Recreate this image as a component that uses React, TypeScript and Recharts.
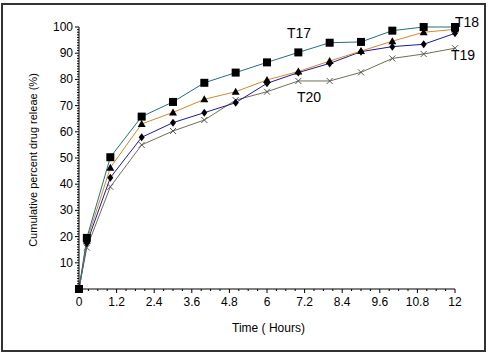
import React from "react";
import { LineChart, Line, XAxis, YAxis } from "recharts";

// sampling times (hours)
const times = [0, 0.25, 1, 2, 3, 4, 5, 6, 7, 8, 9, 10, 11, 12];
// cumulative % release per formulation
const t17 = [0, 19.5, 50.3, 65.8, 71.4, 78.7, 82.6, 86.5, 90.3, 94, 94.3, 98.6, 100, 100];
const t18 = [0, 18.5, 46.3, 63, 67.4, 72.4, 75.3, 79.8, 83, 87, 90.8, 94.6, 98, 99.1];
const t19 = [0, 17.5, 42.5, 57.9, 63.5, 67.3, 71.1, 78.5, 82.6, 86.1, 90.6, 92.5, 93.4, 97.6];
const t20 = [0, 15.8, 39, 55, 60.3, 64.5, 72.1, 75.3, 79.4, 79.4, 82.7, 88, 89.7, 91.9];

const xMajorTicks = [0, 1.2, 2.4, 3.6, 4.8, 6, 7.2, 8.4, 9.6, 10.8, 12];
const yMajorTicks = [10, 20, 30, 40, 50, 60, 70, 80, 90, 100];

// minor tick positions (axis decoration only)
const xTicks = Array.from({ length: 41 }, (_, i) => Math.round(i * 0.3 * 100) / 100);
const yTicks = Array.from({ length: 101 }, (_, i) => i);

const data = times.map((t, i) => ({
  time: t,
  t17: t17[i],
  t18: t18[i],
  t19: t19[i],
  t20: t20[i],
}));

const FONT = '"Liberation Sans", Arial, sans-serif';

const isMajor = (v: number, list: number[]) => list.some((m) => Math.abs(m - v) < 1e-6);

const YTick = (props: any) => {
  const { x, y, payload } = props;
  const v = payload.value;
  const major = isMajor(v, yMajorTicks);
  return (
    <g>
      <line x1={x - (major ? 4 : 2)} x2={x} y1={y} y2={y} stroke="#000" strokeWidth={1} />
      {major && (
        <text x={x - 6} y={y} dy={4} textAnchor="end" fontSize={12} fontFamily={FONT} fill="#000">
          {v}
        </text>
      )}
    </g>
  );
};

const XTick = (props: any) => {
  const { x, y, payload } = props;
  const v = payload.value;
  const major = isMajor(v, xMajorTicks);
  return (
    <g>
      <line x1={x} x2={x} y1={y} y2={y + (major ? 4 : 2)} stroke="#000" strokeWidth={1} />
      {major && (
        <text x={x} y={y + 17} textAnchor="middle" fontSize={12} fontFamily={FONT} fill="#000">
          {v}
        </text>
      )}
    </g>
  );
};

const SquareDot = (p: any) => (
  <rect key={p.index} x={p.cx - 4} y={p.cy - 4} width={8} height={8} fill="#000" />
);
const TriangleDot = (p: any) => (
  <polygon
    key={p.index}
    points={`${p.cx},${p.cy - 4} ${p.cx + 4},${p.cy + 3} ${p.cx - 4},${p.cy + 3}`}
    fill="#000"
  />
);
const DiamondDot = (p: any) => (
  <polygon
    key={p.index}
    points={`${p.cx},${p.cy - 4} ${p.cx + 3},${p.cy} ${p.cx},${p.cy + 4} ${p.cx - 3},${p.cy}`}
    fill="#000"
  />
);
const CrossDot = (p: any) => (
  <path
    key={p.index}
    d={`M${p.cx - 3},${p.cy - 3}L${p.cx + 3},${p.cy + 3}M${p.cx + 3},${p.cy - 3}L${p.cx - 3},${p.cy + 3}`}
    stroke="#555"
    strokeWidth={1}
  />
);

const label = (text: string, left: number, top: number, size = 14) => (
  <div
    style={{
      position: "absolute",
      left,
      top,
      fontSize: size,
      fontFamily: FONT,
      color: "#000",
      whiteSpace: "nowrap",
      lineHeight: 1,
    }}
  >
    {text}
  </div>
);

export default function App() {
  return (
    <div
      style={{
        position: "absolute",
        left: 0,
        top: 0,
        width: 489,
        height: 352,
        background: "#fff",
        fontFamily: FONT,
      }}
    >
      <div
        style={{
          position: "absolute",
          left: 1,
          top: 3,
          width: 481,
          height: 345,
          border: "2px solid #333",
        }}
      />
      <LineChart
        width={489}
        height={352}
        data={data}
        margin={{ top: 27, right: 34, bottom: 33, left: 19 }}
      >
        <XAxis
          dataKey="time"
          type="number"
          domain={[0, 12]}
          ticks={xTicks}
          interval={0}
          tickSize={0}
          tickMargin={0}
          height={30}
          axisLine={{ stroke: "#000" }}
          tickLine={false}
          tick={<XTick />}
        />
        <YAxis
          type="number"
          domain={[0, 100]}
          ticks={yTicks}
          interval={0}
          tickSize={0}
          tickMargin={0}
          width={60}
          axisLine={{ stroke: "#000" }}
          tickLine={false}
          tick={<YTick />}
        />
        <Line dataKey="t20" stroke="#6f6f55" strokeWidth={1} dot={CrossDot} isAnimationActive={false} />
        <Line dataKey="t19" stroke="#1a1aa8" strokeWidth={1} dot={DiamondDot} isAnimationActive={false} />
        <Line dataKey="t18" stroke="#d4882c" strokeWidth={1} dot={TriangleDot} isAnimationActive={false} />
        <Line dataKey="t17" stroke="#22707e" strokeWidth={1} dot={SquareDot} isAnimationActive={false} />
      </LineChart>
      {label("T17", 287, 26)}
      {label("T18", 455, 15)}
      {label("T19", 451, 48)}
      {label("T20", 297, 90)}
      {label("Time ( Hours)", 232, 322, 12)}
      <div
        style={{
          position: "absolute",
          left: 33 - 150,
          top: 160 - 8,
          width: 300,
          height: 16,
          lineHeight: "16px",
          textAlign: "center",
          transform: "rotate(-90deg)",
          fontSize: 11,
          fontFamily: FONT,
          whiteSpace: "nowrap",
          color: "#000",
        }}
      >
        Cumulative percent drug releae (%)
      </div>
    </div>
  );
}
